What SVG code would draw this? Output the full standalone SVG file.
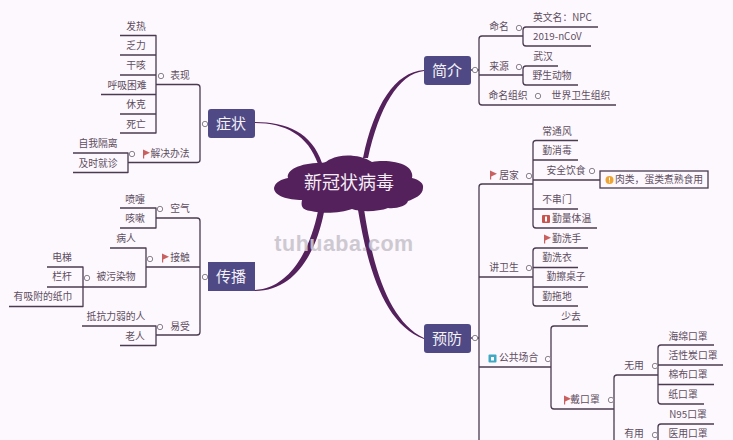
<svg xmlns="http://www.w3.org/2000/svg" width="733" height="440" viewBox="0 0 733 440">
<style>
text{font-family:"Noto Sans CJK SC","Liberation Sans",sans-serif;fill:#5d4e60;font-size:9.800px;text-anchor:middle;dominant-baseline:central;transform:translateY(-.6px)}
.s{text-anchor:start}
.n{fill:#f4f1f8;font-size:15px}
.l{fill:none;stroke:#4a3b50;stroke-width:1.300;stroke-linejoin:round}
.c{fill:#fdf8fe;stroke:#7d7580;stroke-width:.9}
.b{fill:#4f4a85}
.f{fill:#c9605f}
.t{fill:#54215c}
</style>
<defs>
<circle id="o" r="2.700" class="c"/>
<path id="fl" class="f" d="M0 -4.500V4.500H1.200V1.500L7 -1.200Z"/>
</defs>
<rect width="733" height="440" fill="#fdf8fe"/>
<g id="connectors">
<path class="t" d="M255 123C285 123 308 135 318 164L322 163C312 133 287 122 255 122Z"/>
<path class="t" d="M424 70C395 72 374 105 363 158L368 158C379 108 398 74 424 71Z"/>
<path class="t" d="M358 210C368 270 385 325 424 339L424 338C390 322 373 270 364 209Z"/>
<path class="t" d="M318 211C310 250 290 288 255 290V291C294 291 316 254 324 212Z"/>
<path class="l" d="M120 35.500H156V133H120M120 55H156M120 75H156M101 94.500H156M120 114H156"/>
<path class="l" d="M156 84.500H197Q200 84.500 200 87.500V160Q200 162.500 197 162.500H128M73 153H128V172.500H73"/>
<path class="l" d="M120 208H156V228H120M156 218H197Q200 218 200 221V332Q200 335 197 335H156M82 326H156V345.500H120M146 267H200"/>
<path class="l" d="M110 248H146V287H47M47 267H83V306.500H9"/>
<path class="l" d="M471 70H479M523 36H482Q479 36 479 39V102Q479 105 482 105H616M598 27H526Q523 27 523 30V43Q523 46 526 46H591M479 75H523M558 66H526Q523 66 523 69V82Q523 85 526 85H578"/>
<path class="l" d="M471 338H479M533 184H482Q479 184 479 187V440M578 140.500H536Q533 140.500 533 143.500V225Q533 228 536 228H597M533 160H578M533 180H600M533 209H578"/>
<path class="l" d="M588 248H536Q533 248 533 251V303Q533 306 536 306H578M533 267.500H578M533 287H588M479 277H533"/>
<path class="l" d="M588 326H554Q551 326 551 329V406Q551 409 554 409H614M479 367H551M614 440V378Q614 375 617 375H658M714 345H661Q658 345 658 348V401Q658 404 661 404H704M658 365H723M658 384.500H714M714 424H661Q658 424 658 427V440"/>
</g>
<g id="root"><path class="t" d="M274 188C275 182 282 179 288 178C286 170 300 163 320 163C327 163 327 160 331 159C340 154 360 154 372 162C382 160 398 161 406 166C411 169 413 174 412 178C420 180 424 184 423 188C423 195 414 199 408 201C407 206 396 209 388 208C378 212 360 212 352 209C342 213 322 214 311 211C301 210 301 205 302 200C288 200 274 196 274 188Z"/><text x="349" y="182" style="font-size:18px;fill:#f4edf6">新冠状病毒</text></g>
<g id="zhengzhuang"><rect class="b" x="208" y="109" width="47" height="29" rx="3"/><text class="n" x="231" y="123">症状</text><use href="#o" x="205" y="124"/></g>
<g id="biaoxian"><text x="180" y="76">表现</text><use href="#o" x="161" y="76"/></g>
<g id="z1"><text x="136" y="27">发热</text></g>
<g id="z2"><text x="136" y="46">乏力</text></g>
<g id="z3"><text x="136" y="66">干咳</text></g>
<g id="z4"><text x="127" y="86">呼吸困难</text></g>
<g id="z5"><text x="136" y="105">休克</text></g>
<g id="z6"><text x="136" y="125">死亡</text></g>
<g id="jiejue"><use href="#fl" x="143" y="154"/><text x="170" y="154">解决办法</text><use href="#o" x="132" y="154"/></g>
<g id="z7"><text x="98" y="144">自我隔离</text></g>
<g id="z8"><text x="98" y="164">及时就诊</text></g>
<g id="chuanbo"><rect class="b" x="208" y="262" width="47" height="29"/><text class="n" x="231" y="276">传播</text><use href="#o" x="205" y="277"/></g>
<g id="kongqi"><text x="180" y="209">空气</text><use href="#o" x="160" y="209"/></g>
<g id="c1"><text x="135" y="200">喷嚏</text></g>
<g id="c2"><text x="135" y="219">咳嗽</text></g>
<g id="jiechu"><use href="#fl" x="162" y="258"/><text x="180" y="258">接触</text><use href="#o" x="150" y="259"/></g>
<g id="c3"><text x="126" y="239">病人</text></g>
<g id="beiwuran"><text x="116" y="277">被污染物</text><use href="#o" x="87" y="278"/></g>
<g id="c4"><text x="62" y="258">电梯</text></g>
<g id="c5"><text x="62" y="277">栏杆</text></g>
<g id="c6"><text x="43" y="297">有吸附的纸巾</text></g>
<g id="yishou"><text x="180" y="327">易受</text><use href="#o" x="160" y="327"/></g>
<g id="c7"><text x="116" y="317">抵抗力弱的人</text></g>
<g id="c8"><text x="135" y="337">老人</text></g>
<g id="jianjie"><rect class="b" x="424" y="56" width="47" height="29" rx="3"/><text class="n" x="447" y="70">简介</text><use href="#o" x="475" y="70"/></g>
<g id="mingming"><text x="499" y="27">命名</text><use href="#o" x="519" y="28"/></g>
<g id="j1"><text class="s" x="533" y="18">英文名：NPC</text></g>
<g id="j2"><text class="s" x="533" y="37">2019-nCoV</text></g>
<g id="laiyuan"><text x="499" y="67">来源</text><use href="#o" x="519" y="67"/></g>
<g id="j3"><text x="543" y="57">武汉</text></g>
<g id="j4"><text x="552" y="76">野生动物</text></g>
<g id="zuzhi"><text x="508" y="96">命名组织</text><use href="#o" x="538" y="96"/></g>
<g id="j5"><text x="581" y="96">世界卫生组织</text></g>
<g id="yufang"><rect class="b" x="424" y="324" width="47" height="29" rx="3"/><text class="n" x="447" y="338">预防</text><use href="#o" x="475" y="338"/></g>
<g id="jujia"><use href="#fl" x="490" y="175"/><text x="509" y="176">居家</text><use href="#o" x="529" y="176"/></g>
<g id="y1"><text x="557" y="132">常通风</text></g>
<g id="y2"><text x="557" y="151">勤消毒</text></g>
<g id="y3"><text x="566" y="171">安全饮食</text><use href="#o" x="592" y="171"/></g>
<g id="y4"><rect x="600" y="171" width="108" height="17" fill="#fdf8fe" stroke="#4a3b50" stroke-width="1.300"/><circle cx="609.500" cy="180" r="4" fill="#eda433"/><rect x="609" y="177.500" width="1" height="3" fill="#fff"/><rect x="609" y="181.500" width="1" height="1" fill="#fff"/><text class="s" x="615" y="180">肉类，蛋类煮熟食用</text></g>
<g id="y5"><text x="557" y="200">不串门</text></g>
<g id="y6"><rect x="542" y="215" width="8" height="8" rx="1" fill="#c9544f"/><rect x="545" y="216.500" width="2" height="5" fill="#fff"/><text class="s" x="552" y="219">勤量体温</text></g>
<g id="jiangwei"><text x="504" y="268">讲卫生</text><use href="#o" x="529" y="268"/></g>
<g id="y7"><use href="#fl" x="544" y="239"/><text class="s" x="552" y="239">勤洗手</text></g>
<g id="y8"><text x="557" y="258">勤洗衣</text></g>
<g id="y9"><text x="566" y="277">勤擦桌子</text></g>
<g id="y10"><text x="557" y="297">勤拖地</text></g>
<g id="gonggong"><rect x="488.500" y="354.500" width="8" height="8" rx="1" fill="#3fa9c4"/><rect x="491" y="357" width="3" height="3.500" fill="#fff"/><text class="s" x="499" y="358">公共场合</text><use href="#o" x="548" y="359"/></g>
<g id="y11"><text x="571" y="317">少去</text></g>
<g id="daikouzhao"><use href="#fl" x="564" y="400"/><text x="585" y="400">戴口罩</text><use href="#o" x="611" y="400"/></g>
<g id="wuyong"><text x="634" y="366">无用</text><use href="#o" x="655" y="366"/></g>
<g id="m1"><text x="688" y="337">海绵口罩</text></g>
<g id="m2"><text x="693" y="356">活性炭口罩</text></g>
<g id="m3"><text x="688" y="375">棉布口罩</text></g>
<g id="m4"><text x="683" y="395">纸口罩</text></g>
<g id="youyong"><text x="634" y="434">有用</text><use href="#o" x="655" y="435"/></g>
<g id="m5"><text x="688" y="415">N95口罩</text></g>
<g id="m6"><text x="688" y="434">医用口罩</text></g>
<text x="344" y="245" style="font-family:'Liberation Sans',sans-serif;font-weight:bold;font-size:21.500px;fill:#c9c5cd;letter-spacing:.5px;opacity:.9">tuhuaba.com</text>
</svg>
